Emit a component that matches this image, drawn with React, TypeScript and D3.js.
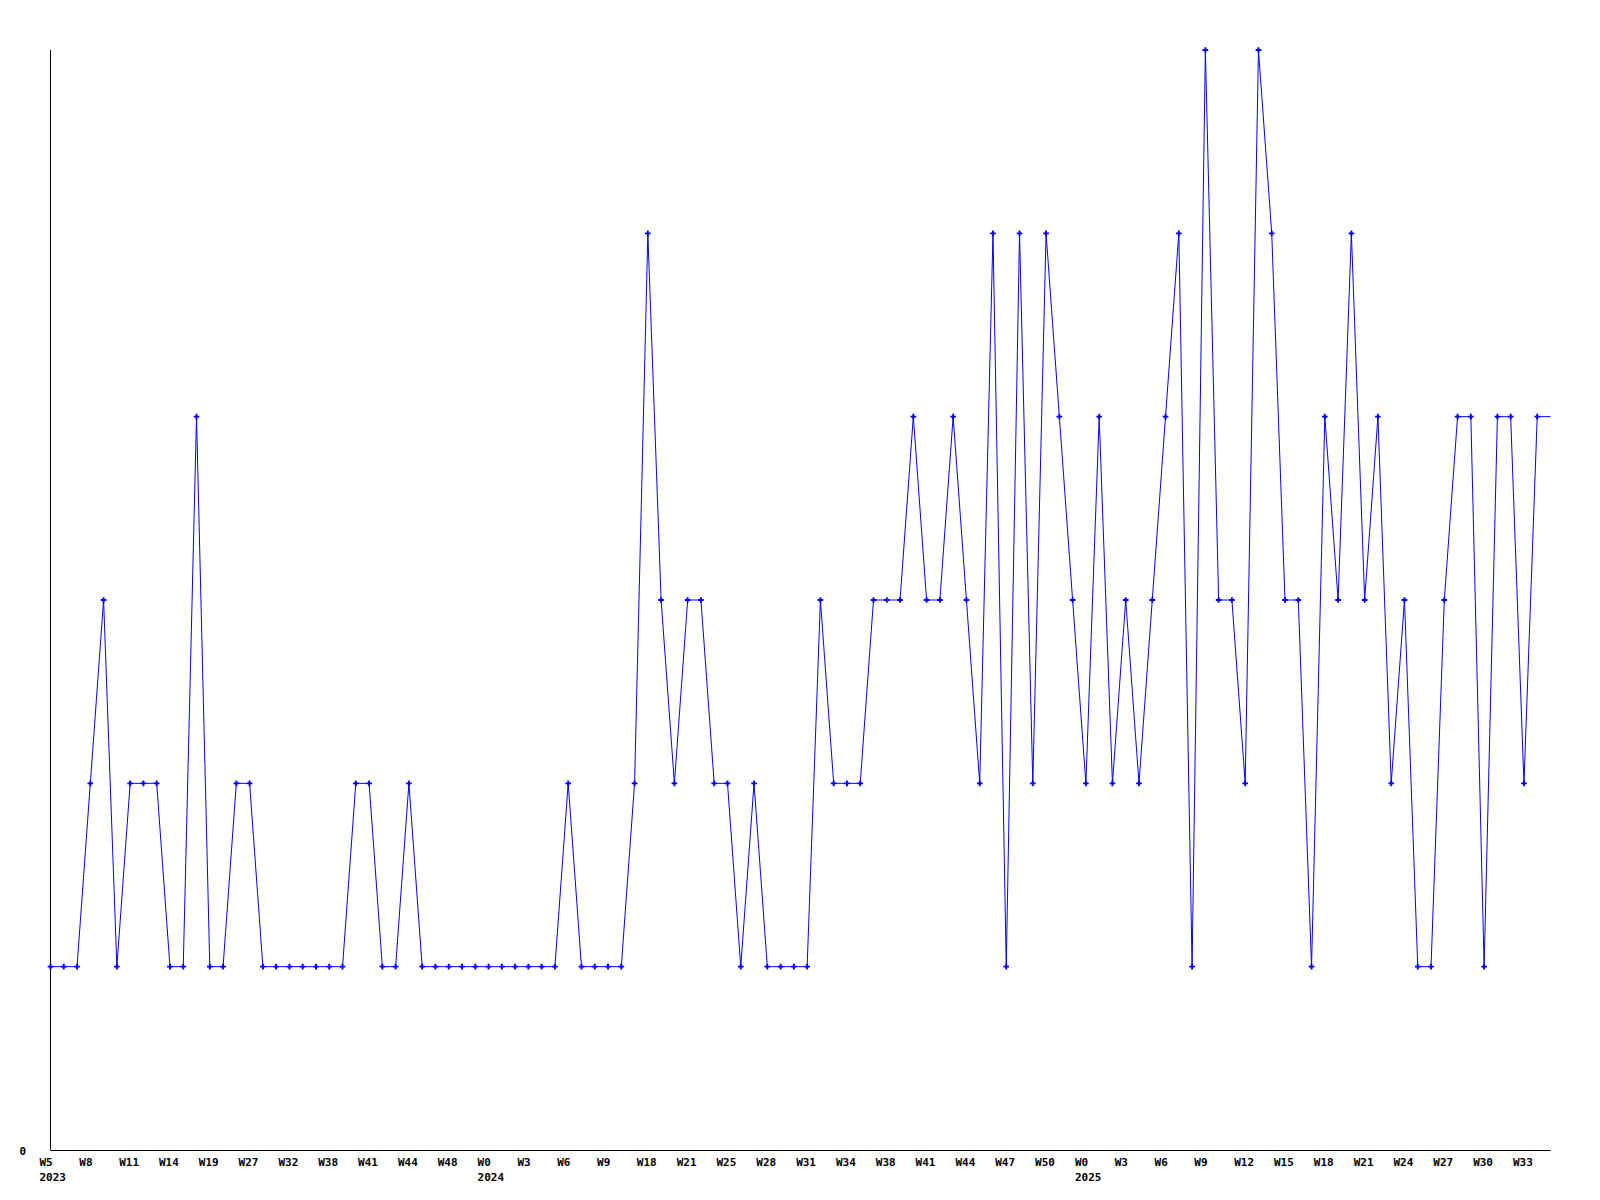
import React from "react";
import * as d3 from "d3";

const values: number[] = [
  1, 1, 1, 2, 3, 1, 2, 2, 2, 1, 1, 4, 1, 1, 2, 2, 1, 1, 1, 1,
  1, 1, 1, 2, 2, 1, 1, 2, 1, 1, 1, 1, 1, 1, 1, 1, 1, 1, 1, 2,
  1, 1, 1, 1, 2, 5, 3, 2, 3, 3, 2, 2, 1, 2, 1, 1, 1, 1, 3, 2,
  2, 2, 3, 3, 3, 4, 3, 3, 4, 3, 2, 5, 1, 5, 2, 5, 4, 3, 2, 4,
  2, 3, 2, 3, 4, 5, 1, 6, 3, 3, 2, 6, 5, 3, 3, 1, 4, 3, 5, 3,
  4, 2, 3, 1, 1, 3, 4, 4, 1, 4, 4, 2, 4, 4,
];

const weekLabels: string[] = [
  "W5", "W8", "W11", "W14", "W19", "W27", "W32", "W38", "W41", "W44", "W48",
  "W0", "W3", "W6", "W9", "W18", "W21", "W25", "W28", "W31", "W34", "W38",
  "W41", "W44", "W47", "W50", "W0", "W3", "W6", "W9", "W12", "W15", "W18",
  "W21", "W24", "W27", "W30", "W33",
];
const labelEvery = 3;
const yearLabels: { index: number; year: string }[] = [
  { index: 0, year: "2023" },
  { index: 33, year: "2024" },
  { index: 78, year: "2025" },
];

const W = 1600;
const H = 1200;
const left = 50.5;
const right = 1550.5;
const top = 50;
const bottom = 1150;
const FONT = "'DejaVu Sans Mono', monospace";

export default function App() {
  const x = d3.scaleLinear().domain([0, values.length - 1]).range([left, right]);
  const y = d3.scaleLinear().domain([0, 6]).range([bottom, top]);
  const line = d3
    .line<number>()
    .x((_, i) => x(i))
    .y((d) => y(d));
  const sym = d3.symbol(d3.symbolCross, 18)() as string;

  return (
    <svg
      width={W}
      height={H}
      style={{ position: "absolute", left: 0, top: 0, background: "#fff" }}
    >
      <rect width={W} height={H} fill="#fff" />
      <line x1={left} x2={left} y1={y(6)} y2={y(0)} stroke="#000" strokeWidth={1} />
      <line x1={left} x2={right} y1={y(0) + 0.5} y2={y(0) + 0.5} stroke="#000" strokeWidth={1} />
      <text
        x={26}
        y={y(0) + 5}
        fontFamily={FONT}
        fontWeight="bold"
        fontSize={11}
        textAnchor="end"
        fill="#000"
      >
        0
      </text>
      <path d={line(values) || ""} fill="none" stroke="#0000ff" strokeWidth={1} />
      {values.slice(0, values.length - 1).map((v, i) => (
        <path key={i} d={sym} transform={`translate(${x(i)},${y(v)})`} fill="#0000ff" />
      ))}
      {weekLabels.map((lab, k) => (
        <text
          key={"w" + k}
          x={x(k * labelEvery) - 11}
          y={1166}
          fontFamily={FONT}
          fontWeight="bold"
          fontSize={11}
          fill="#000"
        >
          {lab}
        </text>
      ))}
      {yearLabels.map((yl) => (
        <text
          key={yl.year}
          x={x(yl.index) - 11}
          y={1181}
          fontFamily={FONT}
          fontWeight="bold"
          fontSize={11}
          fill="#000"
        >
          {yl.year}
        </text>
      ))}
    </svg>
  );
}
